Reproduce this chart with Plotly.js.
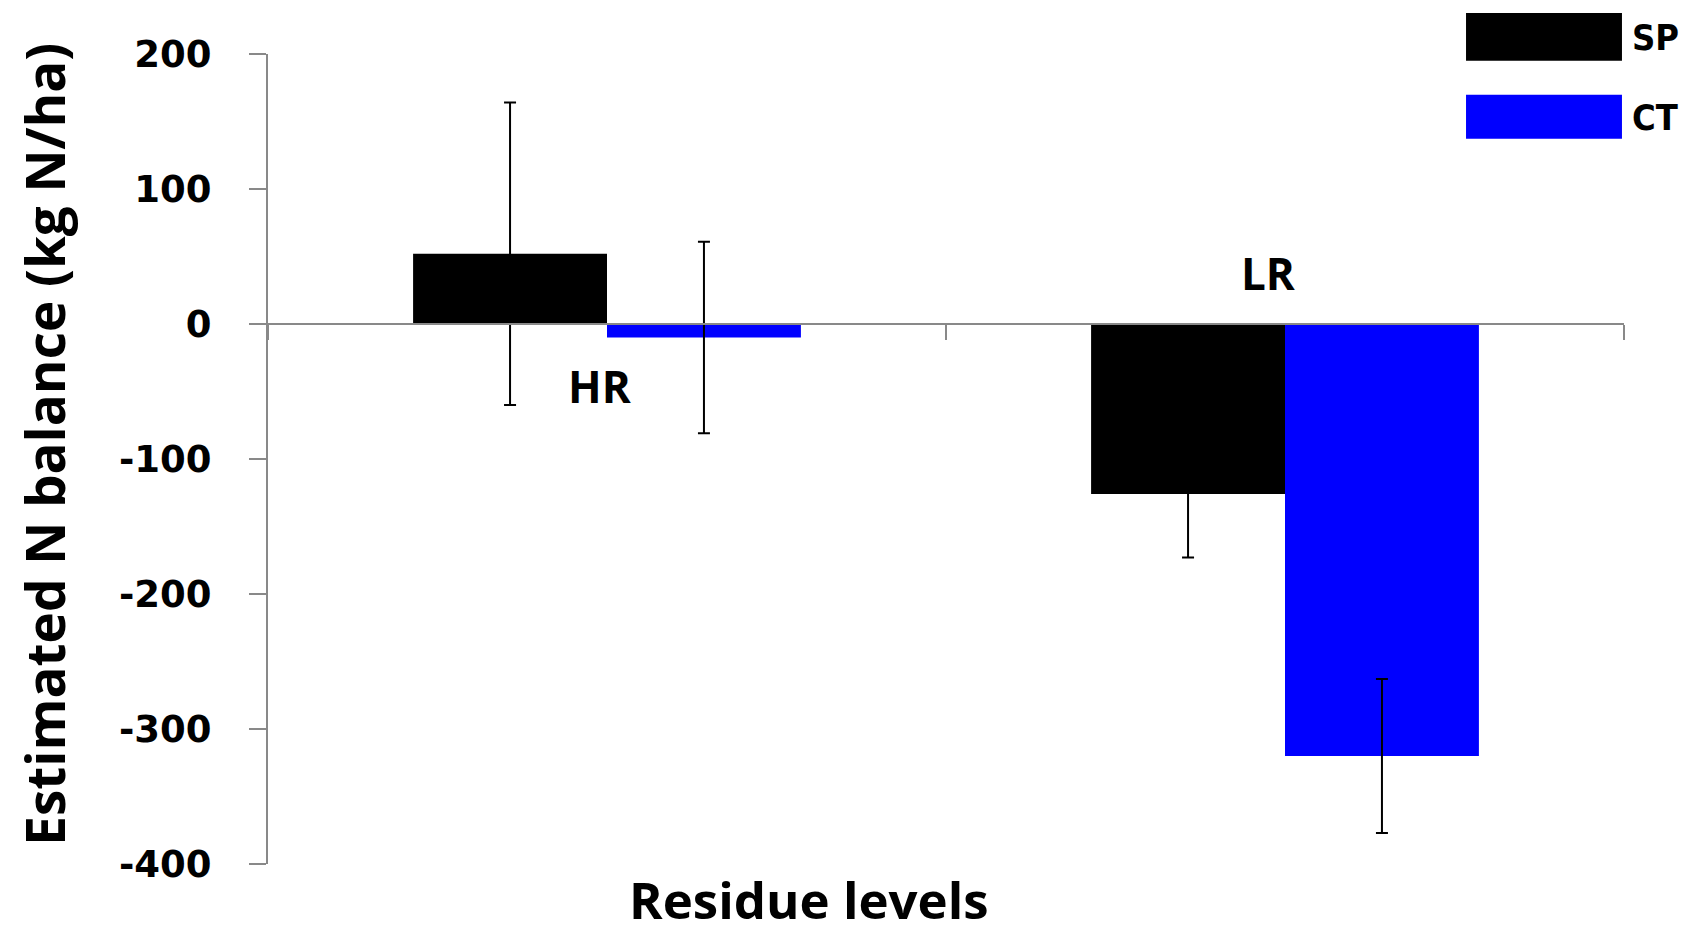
<!DOCTYPE html>
<html>
<head>
<meta charset="utf-8">
<script src="https://cdn.plot.ly/plotly-3.0.1.min.js"></script>
<style>html,body{margin:0;padding:0;background:#fff;}#chart{width:1681px;height:934px;}</style>
</head>
<body>
<div id="chart"></div>
<script>
// ---- data ----
const categories = ['HR', 'LR'];
const seriesNames = ['SP', 'CT'];
const spValues = [52, -126];
const spErrors = [112, 47];
const ctValues = [-10, -320];
const ctErrors = [71, 57];
const yTickValues = [200, 100, 0, -100, -200, -300, -400];
const yRange = [-400, 200];
const yTitle = 'Estimated N balance (kg N/ha)';
const xTitle = 'Residue levels';

const colors = ['#000000', '#0000FF'];
const errStyle = {type: 'data', visible: true, color: '#000000', thickness: 2, width: 6};

const traces = [
  {type: 'bar', name: seriesNames[0], x: categories, y: spValues,
   marker: {color: colors[0], line: {width: 0}},
   error_y: Object.assign({array: spErrors}, errStyle), showlegend: false, hoverinfo: 'skip'},
  {type: 'bar', name: seriesNames[1], x: categories, y: ctValues,
   marker: {color: colors[1], line: {width: 0}},
   error_y: Object.assign({array: ctErrors}, errStyle), showlegend: false, hoverinfo: 'skip'}
];

const axisGray = '#898989';
const zeroFrac = (0 - yRange[0]) / (yRange[1] - yRange[0]);
const titleFont = {family: 'Open Sans', size: 53, color: '#000', weight: 700};
const xTitleFont = {family: 'Open Sans', size: 51, color: '#000', weight: 700};
const catFont = {family: 'Open Sans', size: 44, color: '#000', weight: 700};
const legFont = {family: 'DejaVu Sans Condensed, DejaVu Sans', size: 36, color: '#000', weight: 700};

const annotations = [
  {xref: 'x', yref: 'y', x: categories[0], y: -46, xshift: -7, text: categories[0], showarrow: false,
   font: catFont, xanchor: 'center', yanchor: 'middle'},
  {xref: 'x', yref: 'y', x: categories[1], y: 38, xshift: -17, text: categories[1], showarrow: false,
   font: catFont, xanchor: 'center', yanchor: 'middle'},
  {xref: 'paper', yref: 'paper', x: -0.165, y: 0.518, text: yTitle, textangle: -90, showarrow: false,
   font: titleFont, xanchor: 'center', yanchor: 'middle'},
  {xref: 'paper', yref: 'paper', x: 0.3993, y: -0.0435, text: xTitle, showarrow: false,
   font: xTitleFont, xanchor: 'center', yanchor: 'middle'},
  {xref: 'paper', yref: 'paper', x: 1.0045, y: 1.0209, text: seriesNames[0], showarrow: false,
   font: legFont, xanchor: 'left', yanchor: 'middle'},
  {xref: 'paper', yref: 'paper', x: 1.0045, y: 0.9221, text: seriesNames[1], showarrow: false,
   font: legFont, xanchor: 'left', yanchor: 'middle'}
];

const shapes = [
  {type: 'rect', xref: 'paper', yref: 'paper', x0: 0.8835, x1: 0.9985, y0: 0.9916, y1: 1.0505,
   fillcolor: colors[0], line: {width: 0}},
  {type: 'rect', xref: 'paper', yref: 'paper', x0: 0.8835, x1: 0.9985, y0: 0.8954, y1: 0.9498,
   fillcolor: colors[1], line: {width: 0}}
];

const layout = {
  width: 1681, height: 934,
  margin: {l: 268, r: 57, t: 54, b: 70, pad: 0},
  paper_bgcolor: '#ffffff', plot_bgcolor: '#ffffff',
  barmode: 'group', bargap: 0.428, bargroupgap: 0,
  showlegend: false,
  xaxis: {
    type: 'category', categoryorder: 'array', categoryarray: categories,
    range: [-0.5, 1.5], anchor: 'free', position: zeroFrac,
    showline: true, linecolor: axisGray, linewidth: 2,
    ticks: 'outside', tickson: 'boundaries', ticklen: 15, tickwidth: 2, tickcolor: axisGray,
    showticklabels: false, showgrid: false, zeroline: false, fixedrange: true
  },
  yaxis: {
    range: yRange, tickvals: yTickValues, ticktext: yTickValues.map(String),
    showline: true, linecolor: axisGray, linewidth: 2,
    ticks: 'outside', ticklen: 17, tickwidth: 2, tickcolor: axisGray,
    ticklabelstandoff: 30,
    tickfont: {family: 'DejaVu Sans', size: 37, color: '#000', weight: 700},
    showgrid: false, zeroline: false, fixedrange: true
  },
  annotations: annotations,
  shapes: shapes
};

Plotly.newPlot('chart', traces, layout, {displayModeBar: false, staticPlot: true});
</script>
</body>
</html>
